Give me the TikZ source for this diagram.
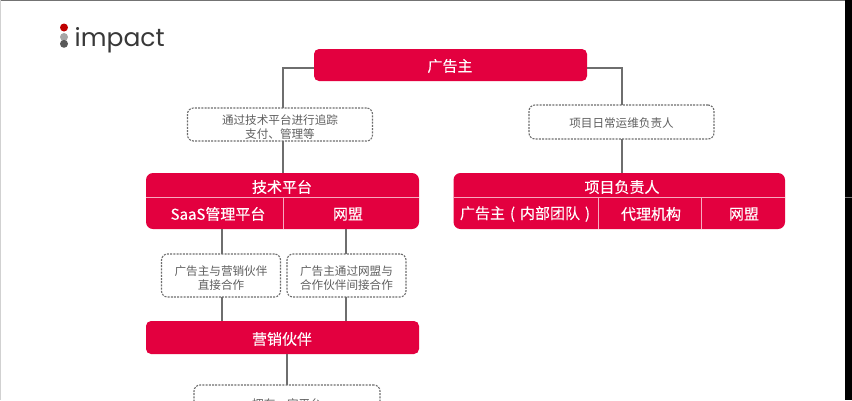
\documentclass[tikz,border=0pt]{standalone}
\usepackage{fontspec}
\setmainfont{Noto Sans CJK SC}
\newfontfamily\logofont{Poppins}
\newfontfamily\cellfont{Noto Sans CJK SC}[FakeBold=0.25]
\usetikzlibrary{positioning,calc}
\definecolor{impactred}{HTML}{E3003F}
\definecolor{linegray}{HTML}{6E6E6E}
\definecolor{notegray}{HTML}{5F5F5F}
\definecolor{celledge}{HTML}{F7A9BF}
\newcommand{\notetop}[1]{\rule{0pt}{#1}}
\newcommand{\widechar}[1]{\makebox[15pt]{#1}}

\begin{document}
\begin{tikzpicture}[
	x=1pt, y=-1pt,
	redbox/.style={rectangle, rounded corners=5pt, fill=impactred, text=white, inner sep=0pt, outer sep=0pt, font=\cellfont\fontsize{15}{18}\selectfont},
	tallbox/.style={redbox, rounded corners=7pt},
	cell/.style={inner sep=0pt, text=white, font=\cellfont\fontsize{15}{18}\selectfont},
	note/.style={rectangle, rounded corners=6pt, draw=linegray, line width=1.1pt, dash pattern=on 2pt off 1.2pt, fill=white, text=notegray, align=center, inner sep=0pt, outer sep=0pt, font=\fontsize{11.6}{14}\selectfont},
	conn/.style={draw=linegray, line width=1.2pt},
	divider/.style={draw=celledge, line width=0.7pt}
	]
	\useasboundingbox (0,0) rectangle (852,400);
	\clip (0,0) rectangle (852,400);
	\fill[white] (0,0) rectangle (852,400);
	
	% Screen edges
	\fill[black!55] (0,0) rectangle (845,1);
	\fill[black!18] (0,0) rectangle (1,400);
	\fill[black] (845,0) rectangle (852,400);
	\fill[black!55] (845,196.5) rectangle (852,198);
	
	% Logo
	\fill[red!75!black] (64,27.5) circle (4);
	\fill[black!35] (64,37) circle (4);
	\fill[black!65] (64,43.8) circle (4);
	\node[inner sep=0pt, anchor=base west, text=black!78, font=\logofont\fontsize{25}{30}\selectfont] (logo) at (74.5,46.5) {impact};
	
	% Advertiser
	\node[redbox, minimum width=273pt, minimum height=32pt] (advertiser) at (450.5,65) {};
	\node[cell] (advertitle) at (450,66) {广告主};
	
	% Notes, first row
	\node[note, minimum width=185pt, minimum height=33pt] (tracknote) at (280,124.5) {\notetop{14pt}通过技术平台进行追踪\\支付、管理等};
	\node[note, minimum width=185pt, minimum height=34pt] (opsnote) at (621.5,122) {\notetop{12pt}项目日常运维负责人};
	
	% Tech platform
	\node[tallbox, minimum width=273pt, minimum height=56pt] (techbox) at (282.5,201) {};
	\node[cell] (techtitle) at (282,187) {技术平台};
	\node[cell] (saas) at (218,214) {SaaS管理平台};
	\node[cell] (network) at (348,214) {网盟};
	\coordinate (techsplit) at (283,197.5);
	\draw[divider] (techbox.west |- techsplit) -- (techbox.east |- techsplit);
	\draw[divider] (techsplit) -- (techsplit |- techbox.south);
	
	% Project owner
	\node[tallbox, minimum width=331.5pt, minimum height=56pt] (ownerbox) at (619.25,201) {};
	\node[cell] (ownertitle) at (622,187) {项目负责人};
	\node[cell] (inhouse) at (527.5,214) {广告主\widechar{(}内部团队\widechar{)}};
	\node[cell] (agency) at (651,214) {代理机构};
	\node[cell] (ownernet) at (744,214) {网盟};
	\coordinate (ownersplit) at (453.5,197.5);
	\coordinate (agencysplit) at (598,197.5);
	\coordinate (netsplit) at (701.5,197.5);
	\draw[divider] (ownersplit) -- (ownerbox.east |- ownersplit);
	\draw[divider] (agencysplit) -- (agencysplit |- ownerbox.south);
	\draw[divider] (netsplit) -- (netsplit |- ownerbox.south);
	
	% Notes, second row
	\node[note, minimum width=119pt, minimum height=43pt] (directnote) at (221,275.5) {\notetop{14pt}广告主与营销伙伴\\直接合作};
	\node[note, minimum width=119pt, minimum height=43pt] (indirectnote) at (346.5,275.5) {\notetop{14pt}广告主通过网盟与\\合作伙伴间接合作};
	
	% Partners
	\node[redbox, minimum width=273pt, minimum height=33pt] (partners) at (282.5,337.5) {};
	\node[cell] (partnertitle) at (282,339) {营销伙伴};
	\node[note, minimum width=186pt, minimum height=34pt] (platformnote) at (287,402) {\notetop{13pt}拥有一定平台};
	
	% Connectors
	\draw[conn] ([yshift=-3pt]advertiser.west) -| ([xshift=3pt]tracknote.north);
	\draw[conn] ([xshift=3pt]tracknote.south) -- ([xshift=3pt]tracknote.south |- techbox.north);
	\draw[conn] ([yshift=-3pt]advertiser.east) -| ([xshift=0.5pt]opsnote.north);
	\draw[conn] ([xshift=0.5pt]opsnote.south) -- ([xshift=0.5pt]opsnote.south |- ownerbox.north);
	\draw[conn] ([xshift=1pt]directnote.north) -- ([xshift=1pt]directnote.north |- techbox.south);
	\draw[conn] ([xshift=-0.5pt]indirectnote.north) -- ([xshift=-0.5pt]indirectnote.north |- techbox.south);
	\draw[conn] ([xshift=1pt]directnote.south) -- ([xshift=1pt]directnote.south |- partners.north);
	\draw[conn] ([xshift=-0.5pt]indirectnote.south) -- ([xshift=-0.5pt]indirectnote.south |- partners.north);
	\draw[conn] (platformnote.north |- partners.south) -- (platformnote.north);
\end{tikzpicture}
\end{document}
